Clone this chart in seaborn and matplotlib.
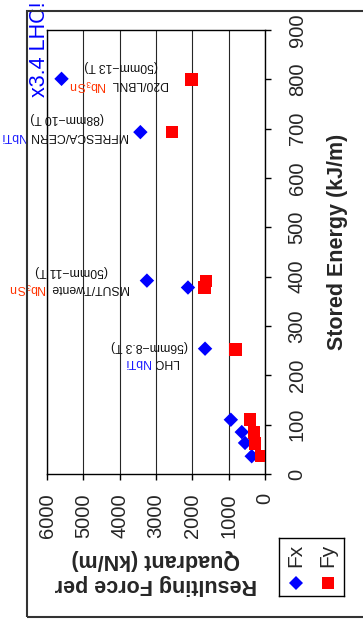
import matplotlib
matplotlib.use("Agg")
import matplotlib.pyplot as plt
from matplotlib.lines import Line2D
from matplotlib.patches import Rectangle
import pandas as pd
import seaborn as sns

# Stored energy (kJ/m) and resulting force per quadrant (kN/m)
energy_fx = [801, 693, 392, 378, 254, 110, 85, 63, 36]
force_fx = [5600, 3430, 3250, 2120, 1650, 940, 640, 550, 366]
energy_fy = [800, 693, 391, 378, 252, 110, 84, 62, 36]
force_fy = [2020, 2560, 1620, 1672, 810, 413, 303, 275, 91]

energy_ticks = list(range(0, 901, 100))
force_ticks = list(range(0, 6001, 1000))

# Magnet annotations: name, conductor, bore/field
magnet_names = ["D20/LBNL", "MFRESCA/CERN", "MSUT/Twente", "LHC"]
magnet_conductors = [r"Nb$_{3}$Sn", "NbTi", r"Nb$_{3}$Sn", "NbTi"]
magnet_specs = ["(50mm\u221213 T)", "(88mm\u221210 T)", "(50mm\u221211 T)", "(56mm\u22128.3 T)"]

sns.set_theme(style="white")
plt.rcParams["font.family"] = ["Liberation Sans", "DejaVu Sans"]
plt.rcParams["mathtext.fontset"] = "custom"
plt.rcParams["mathtext.rm"] = "Liberation Sans"
plt.rcParams["mathtext.it"] = "Liberation Sans:italic"
plt.rcParams["mathtext.bf"] = "Liberation Sans:bold"
plt.rcParams["mathtext.default"] = "regular"

fx = pd.DataFrame({"force": force_fx, "energy": energy_fx})
fy = pd.DataFrame({"force": force_fy, "energy": energy_fy})

fig = plt.figure(figsize=(3.63, 6.28), dpi=100)
ax = fig.add_axes([47 / 363, 1 - 474 / 628, 218 / 363, 444 / 628])

sns.scatterplot(data=fx, x="force", y="energy", marker="D", s=54, color="#0000ff",
                edgecolor="none", linewidth=0, ax=ax, zorder=3)
sns.scatterplot(data=fy, x="force", y="energy", marker="s", s=81, color="#ff0000",
                edgecolor="none", linewidth=0, ax=ax, zorder=3)

ax.set_xlim(6000, 0)
ax.set_ylim(0, 900)
ax.set_xticks(force_ticks)
ax.set_xticklabels([str(t) for t in force_ticks])
ax.set_yticks(energy_ticks)
ax.set_yticklabels([str(t) for t in energy_ticks])
ax.yaxis.tick_right()
ax.yaxis.set_label_position("right")

ax.tick_params(axis="x", bottom=True, top=False, direction="out", length=4.3, width=1,
               color="black", labelsize=14.5, labelrotation=90, pad=9.5)
ax.tick_params(axis="y", right=True, left=False, direction="out", length=4.3, width=1,
               color="black", labelsize=14.5, labelrotation=90, pad=12)
for lab in ax.get_yticklabels():
    lab.set_verticalalignment("center")

ax.grid(axis="x", color="0.15", lw=0.8)
ax.grid(axis="y", visible=False)
ax.set_axisbelow(True)
for sp in ax.spines.values():
    sp.set_color("black")
    sp.set_linewidth(1)

ax.set_ylabel("Stored Energy (kJ/m)", fontsize=15.5, fontweight="bold", rotation=90)
ax.yaxis.set_label_coords(1.285, 0.5225)
ax.set_xlabel("Resulting Force per\nQuadrant (kN/m)", fontsize=15.5, fontweight="bold",
              rotation=180, linespacing=1.25)
ax.xaxis.set_label_coords(0.5, -0.169)

# Upside-down magnet annotations: name, then the coloured conductor right after it
ann_font = 8.8
name_pos = [(2700, 797), (3802, 692), (3775, 384), (2397, 233)]
spec_pos = [(3967, 834), (5441, 727), (5331, 418), (3182, 266)]
cond_colors = ["#ff3300", "#1a1aff", "#ff3300", "#1a1aff"]
for i in range(len(magnet_names)):
    name_txt = ax.text(*name_pos[i], magnet_names[i], rotation=180, rotation_mode="anchor",
                       ha="left", va="baseline", fontsize=ann_font, color="#111111")
    ax.annotate(magnet_conductors[i], xy=(0, name_pos[i][1]),
                xycoords=(name_txt, "data"), xytext=(-2.5, 0), textcoords="offset points",
                rotation=180, rotation_mode="anchor", ha="left", va="baseline",
                fontsize=ann_font, color=cond_colors[i], annotation_clip=False)
    ax.text(*spec_pos[i], magnet_specs[i], rotation=180, rotation_mode="anchor",
            ha="center", va="baseline", fontsize=ann_font, color="#111111")

ax.text(6198, 764, "x3.4 LHC!", rotation=90, rotation_mode="anchor", ha="left",
        va="center", fontsize=15.5, color="#0000ff", clip_on=False)

# Legend block
lax = fig.add_axes([279 / 363, 1 - 596 / 628, 65 / 363, 58 / 628])
lax.set_xlim(0, 1)
lax.set_ylim(0, 1)
lax.set_xticks([])
lax.set_yticks([])
lax.set_facecolor("white")
for sp in lax.spines.values():
    sp.set_color("black")
    sp.set_linewidth(1)
lax.add_line(Line2D([0.26], [0.22], marker="D", markersize=7.4, color="#0000ff", lw=0,
                    markeredgewidth=0))
lax.add_line(Line2D([0.755], [0.22], marker="s", markersize=9, color="#ff0000", lw=0,
                    markeredgewidth=0))
lax.text(0.26, 0.5, "Fx", rotation=90, rotation_mode="anchor", ha="left", va="center",
         fontsize=15)
lax.text(0.755, 0.5, "Fy", rotation=90, rotation_mode="anchor", ha="left", va="center",
         fontsize=15)

# Outer frame
fig.add_artist(Rectangle((27 / 363, 1 - 617 / 628), 1.0, 606 / 628, transform=fig.transFigure,
                         fill=False, ec="#333333", lw=1.5, clip_on=False))

fig.savefig("out.png", dpi=100, facecolor="white")
